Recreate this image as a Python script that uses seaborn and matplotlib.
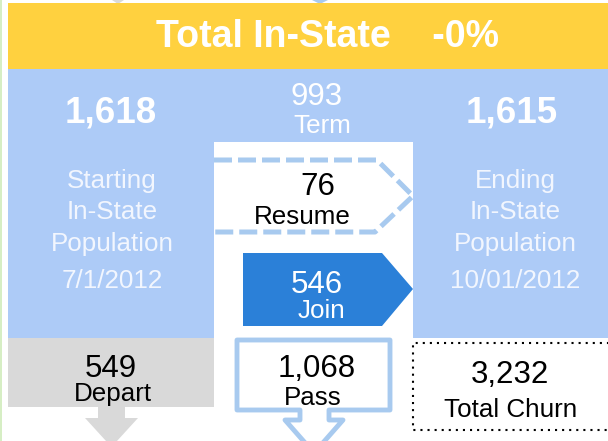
import matplotlib
matplotlib.use("Agg")
import matplotlib.pyplot as plt
import seaborn as sns
from matplotlib.patches import Polygon, Rectangle

# Flow values (in-state population, 7/1/2012 -> 10/01/2012)
start_pop = 1618
end_pop = 1615
term = 993
resume = 76
join = 546
depart = 549
passed = 1068
churn = 3232
change = "-0%"

side_labels = ["Starting", "In-State", "Population", "7/1/2012"]
end_labels = ["Ending", "In-State", "Population", "10/01/2012"]

sns.set_theme(style="white")
plt.rcParams["font.family"] = ["Liberation Sans", "DejaVu Sans"]

YELLOW = "#FFD13F"
LBLUE = "#ADCBF7"
DBLUE = "#2B80D8"
GRAY = "#D9D9D9"
OUTLINE = "#A8CAEF"
WHITE = "#FFFFFF"
SOFT = "#F2F6FE"

fig = plt.figure(figsize=(6.08, 4.41), dpi=100)
ax = fig.add_axes([0, 0, 1, 1])
ax.set_xlim(0, 608)
ax.set_ylim(441, 0)
ax.axis("off")

# thin green strip on the left edge
ax.add_patch(Rectangle((0, 0), 2, 441, color="#D6EEC4", lw=0))

# tips of arrows coming from above
ax.add_patch(Polygon([(112, 0), (124, 0), (118, 4)], color=GRAY, lw=0))
ax.add_patch(Polygon([(312, 0), (328, 0), (320, 4)], color=OUTLINE, lw=0))

# title band
ax.add_patch(Rectangle((8, 3), 600, 66, color=YELLOW, lw=0))
ax.text(328, 47, f"Total In-State    {change}", ha="center", va="baseline",
        fontsize=27, fontweight="bold", color=WHITE)

# blue band + white middle cut-out
ax.add_patch(Rectangle((8, 69), 600, 269, color=LBLUE, lw=0))
ax.add_patch(Rectangle((214, 142), 199, 196, color=WHITE, lw=0))

# start / end populations
ax.text(111, 123, f"{start_pop:,}", ha="center", va="baseline", fontsize=26.5,
        fontweight="bold", color=WHITE)
ax.text(512, 123, f"{end_pop:,}", ha="center", va="baseline", fontsize=26.5,
        fontweight="bold", color=WHITE)
for lab_l, lab_r, yb in zip(side_labels, end_labels, [188, 219, 251, 288]):
    ax.text(112, yb, lab_l, ha="center", va="baseline", fontsize=18.7, color=SOFT)
    ax.text(515, yb, lab_r, ha="center", va="baseline", fontsize=18.7, color=SOFT)

# term
ax.text(317, 105, f"{term:,}", ha="center", va="baseline", fontsize=22.5, color=WHITE)
ax.text(322, 133, "Term", ha="center", va="baseline", fontsize=18.7, color=WHITE)

# resume dashed chevron
ax.plot([214, 377, 413, 375, 214], [160, 160, 196, 232, 232], color=OUTLINE,
        lw=3.6, ls=(0, (3.6, 1.2)), solid_capstyle="butt", dash_capstyle="butt")
ax.text(318, 195, f"{resume:,}", ha="center", va="baseline", fontsize=22.5, color="black")
ax.text(302, 224, "Resume", ha="center", va="baseline", fontsize=18.7, color="black")

# join chevron
ax.add_patch(Polygon([(243, 253), (382, 253), (413, 289), (382, 326), (243, 326)],
                     color=DBLUE, lw=0))
ax.text(317, 293, f"{join:,}", ha="center", va="baseline", fontsize=22.5, color=WHITE)
ax.text(321, 318, "Join", ha="center", va="baseline", fontsize=18.7, color=WHITE)

# depart box + arrow
ax.add_patch(Rectangle((8, 338), 206, 69, color=GRAY, lw=0))
ax.add_patch(Polygon([(98, 406), (125, 406), (125, 418), (138, 418), (111.5, 447),
                      (85, 418), (98, 418)], color=GRAY, lw=0))
ax.text(111, 377, f"{depart:,}", ha="center", va="baseline", fontsize=22.5, color="black")
ax.text(113, 401, "Depart", ha="center", va="baseline", fontsize=18.7, color="black")

# pass outlined box + arrow
ax.add_patch(Polygon([(237, 340), (390, 340), (390, 410), (329, 410), (329, 420),
                      (343, 420), (314, 453), (285, 420), (300, 420), (300, 410),
                      (237, 410)], closed=True, facecolor=WHITE, edgecolor=OUTLINE,
                     lw=3.5, joinstyle="round"))
ax.text(317, 377, f"{passed:,}", ha="center", va="baseline", fontsize=22.5, color="black")
ax.text(313, 405, "Pass", ha="center", va="baseline", fontsize=18.7, color="black")

# total churn dotted box
ax.plot([620, 413, 413, 620], [343, 343, 430, 430], color="black", lw=1.5,
        ls=(0, (1, 2.4)))
ax.text(510, 383, f"{churn:,}", ha="center", va="baseline", fontsize=22.5, color="black")
ax.text(511, 417, "Total Churn", ha="center", va="baseline", fontsize=18.7, color="black")

fig.savefig("out.png", dpi=100)
